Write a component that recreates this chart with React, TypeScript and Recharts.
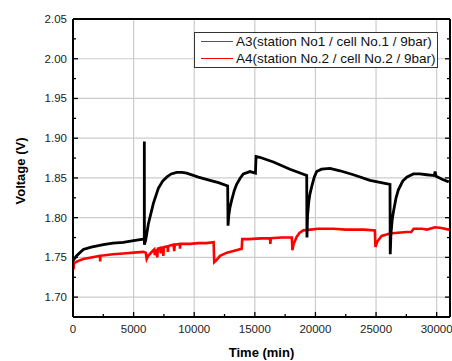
import { LineChart, Line, XAxis, YAxis, CartesianGrid } from 'recharts'

const seriesNames = ['A3(station No1 / cell No.1 / 9bar)', 'A4(station No.2 / cell No.2 / 9bar)']
const seriesColors = ['#000000', '#ff0000']

// A3 - black
const a3Time = [
  0, 300, 850, 1500, 2500, 3300, 4150, 5000, 5800, 5880, 5885, 5892, 6000, 6215, 6630, 7040, 7400,
  7730, 8100, 8550, 9000, 9380, 10340, 11300, 12000, 12760, 12790, 12850, 12950, 13090, 13300, 13500,
  13800, 14050, 14600, 15050, 15100, 15400, 16530, 17900, 19280, 19300, 19350, 19450, 19550, 19690,
  19900, 20100, 20500, 21200, 22030, 23130, 24500, 26150, 26170, 26230, 26330, 26430, 26650, 26840,
  27200, 27530, 28080, 28600, 29180, 29800, 29870, 29950, 30500, 31000,
]
const a3Volt = [
  1.746, 1.752, 1.76, 1.763, 1.766, 1.768, 1.769, 1.771, 1.773, 1.773, 1.896, 1.766, 1.772, 1.792,
  1.818, 1.837, 1.846, 1.851, 1.855, 1.857, 1.857, 1.856, 1.851, 1.847, 1.844, 1.84, 1.79, 1.803,
  1.813, 1.822, 1.834, 1.842, 1.85, 1.855, 1.858, 1.856, 1.877, 1.876, 1.87, 1.861, 1.853, 1.775,
  1.803, 1.82, 1.83, 1.839, 1.851, 1.858, 1.861, 1.862, 1.859, 1.854, 1.847, 1.842, 1.754, 1.78,
  1.797, 1.807, 1.825, 1.835, 1.846, 1.851, 1.855, 1.855, 1.854, 1.853, 1.858, 1.852, 1.848, 1.845,
]

// A4 - red
const a4Time = [
  0, 40, 80, 500, 850, 1500, 2230, 2240, 2260, 3300, 4150, 5000, 5800, 6000, 6080, 6200, 6630, 6700,
  6750, 6900, 6950, 7000, 7200, 7230, 7260, 7400, 7450, 7500, 7800, 7830, 7860, 8000, 8300, 8350,
  8400, 8800, 8830, 8860, 9000, 9650, 10340, 11000, 11600, 11650, 11800, 12130, 12700, 13230, 13920,
  13960, 14500, 15500, 16250, 16280, 16320, 17200, 18050, 18100, 18200, 18460, 18700, 19000, 19600,
  20240, 21500, 22500, 23130, 24000, 24900, 24950, 25100, 25460, 26150, 26800, 27530, 27900, 28100,
  28800, 29200, 29870, 30400, 30960, 31100,
]
const a4Volt = [
  1.741, 1.735, 1.743, 1.746, 1.748, 1.75, 1.752, 1.745, 1.752, 1.754, 1.755, 1.756, 1.757, 1.756,
  1.748, 1.752, 1.759, 1.76, 1.753, 1.76, 1.75, 1.761, 1.762, 1.755, 1.762, 1.762, 1.752, 1.763,
  1.764, 1.757, 1.764, 1.765, 1.766, 1.758, 1.766, 1.767, 1.761, 1.767, 1.767, 1.767, 1.768, 1.768,
  1.769, 1.744, 1.746, 1.752, 1.756, 1.758, 1.761, 1.773, 1.773, 1.774, 1.774, 1.767, 1.774, 1.775,
  1.775, 1.759, 1.767, 1.776, 1.781, 1.784, 1.785, 1.786, 1.786, 1.785, 1.785, 1.785, 1.784, 1.763,
  1.77, 1.777, 1.78, 1.781, 1.782, 1.782, 1.786, 1.786, 1.785, 1.788, 1.787, 1.785, 1.786,
]

const xTicks = [
  0, 2500, 5000, 7500, 10000, 12500, 15000, 17500, 20000, 22500, 25000, 27500, 30000,
]
const xMajor = [5000, 10000, 15000, 20000, 25000, 30000]
const yTicks = [
  1.7, 1.725, 1.75, 1.775, 1.8, 1.825, 1.85, 1.875, 1.9, 1.925, 1.95, 1.975, 2.0, 2.025, 2.05,
]
const yMajor = [1.7, 1.75, 1.8, 1.85, 1.9, 1.95, 2.0]

const a3Data = a3Time.map((t, i) => ({ t, v: a3Volt[i] }))
const a4Data = a4Time.map((t, i) => ({ t, v: a4Volt[i] }))

const FONT = '"Liberation Sans", Arial, sans-serif'

const isMajorX = (v: number) => v % 5000 === 0
const isMajorY = (v: number) => Math.round(v * 1000) % 50 === 0

const BottomTick = ({ x, y, payload }: any) => {
  const major = isMajorX(payload.value)
  return (
    <g>
      <line x1={x} x2={x} y1={y} y2={y - (major ? 5 : 3)} stroke="#000" strokeWidth={1.3} />
      {major && (
        <text x={x} y={y + 16} textAnchor="middle" fontSize={11.5} fontFamily={FONT} fill="#222">
          {payload.value}
        </text>
      )}
    </g>
  )
}

const TopTick = ({ x, y, payload }: any) => {
  const major = isMajorX(payload.value)
  return <line x1={x} x2={x} y1={y} y2={y + (major ? 5 : 3)} stroke="#000" strokeWidth={1.3} />
}

const LeftTick = ({ x, y, payload }: any) => {
  const major = isMajorY(payload.value)
  return (
    <g>
      <line x1={x} x2={x + (major ? 5 : 3)} y1={y} y2={y} stroke="#000" strokeWidth={1.3} />
      {major && (
        <text x={x - 6} y={y + 4} textAnchor="end" fontSize={11.5} fontFamily={FONT} fill="#222">
          {payload.value.toFixed(2)}
        </text>
      )}
    </g>
  )
}

const RightTick = ({ x, y, payload }: any) => {
  const major = isMajorY(payload.value)
  return <line x1={x} x2={x - (major ? 5 : 3)} y1={y} y2={y} stroke="#000" strokeWidth={1.3} />
}

const YLabel = ({ viewBox }: any) => {
  const cx = viewBox.x + 20
  const cy = viewBox.y + viewBox.height / 2 + 3
  return (
    <text
      x={cx}
      y={cy}
      transform={`rotate(-90 ${cx} ${cy})`}
      textAnchor="middle"
      dominantBaseline="central"
      fontSize={13}
      fontWeight="bold"
      fontFamily={FONT}
      fill="#000"
    >
      Voltage (V)
    </text>
  )
}

const axisLine = { stroke: '#000', strokeWidth: 2 }

export default function App() {
  return (
    <div style={{ position: 'absolute', left: 0, top: 0, width: 452, height: 361, background: '#fff' }}>
      <LineChart width={452} height={361} margin={{ top: 0, right: 0, bottom: 0, left: 0 }}>
        <CartesianGrid
          stroke="#cccccc"
          strokeWidth={1.2}
          verticalValues={xMajor}
          horizontalValues={yMajor}
        />
        <XAxis
          dataKey="t"
          type="number"
          domain={[0, 31100]}
          allowDataOverflow
          ticks={xTicks}
          interval={0}
          height={44}
          tickSize={0}
          tickMargin={0}
          tickLine={false}
          axisLine={axisLine}
          tick={<BottomTick />}
          label={{
            value: 'Time (min)',
            position: 'insideBottom',
            offset: 4,
            fontSize: 13,
            fontWeight: 'bold',
            fontFamily: FONT,
            fill: '#000',
          }}
        />
        <XAxis
          xAxisId="top"
          orientation="top"
          type="number"
          domain={[0, 31100]}
          allowDataOverflow
          ticks={xTicks}
          interval={0}
          height={19}
          tickSize={0}
          tickMargin={0}
          tickLine={false}
          axisLine={axisLine}
          tick={<TopTick />}
        />
        <YAxis
          type="number"
          domain={[1.675, 2.05]}
          allowDataOverflow
          ticks={yTicks}
          interval={0}
          width={73}
          tickSize={0}
          tickMargin={0}
          tickLine={false}
          axisLine={axisLine}
          tick={<LeftTick />}
          label={{ content: <YLabel /> }}
        />
        <YAxis
          yAxisId="right"
          orientation="right"
          type="number"
          domain={[1.675, 2.05]}
          allowDataOverflow
          ticks={yTicks}
          interval={0}
          width={2}
          tickSize={0}
          tickMargin={0}
          tickLine={false}
          axisLine={axisLine}
          tick={<RightTick />}
        />
        <Line
          data={a4Data}
          dataKey="v"
          type="linear"
          stroke={seriesColors[1]}
          strokeWidth={2.6}
          dot={false}
          isAnimationActive={false}
        />
        <Line
          data={a3Data}
          dataKey="v"
          type="linear"
          stroke={seriesColors[0]}
          strokeWidth={2.8}
          dot={false}
          isAnimationActive={false}
        />
      </LineChart>
      <div
        style={{
          position: 'absolute',
          left: 194,
          top: 32,
          width: 242,
          height: 34,
          border: '1.5px solid #333',
          background: '#fff',
          fontFamily: FONT,
          fontSize: 13.5,
          color: '#111',
          boxSizing: 'content-box',
        }}
      >
        {seriesNames.map((name, i) => (
          <div
            key={name}
            style={{ display: 'flex', alignItems: 'center', height: 17, lineHeight: '17px', whiteSpace: 'nowrap' }}
          >
            <span
              style={{
                display: 'inline-block',
                width: 32,
                height: 1,
                marginLeft: 6,
                marginRight: 3,
                background: i === 0 ? '#555' : seriesColors[1],
              }}
            />
            <span>{name}</span>
          </div>
        ))}
      </div>
    </div>
  )
}
